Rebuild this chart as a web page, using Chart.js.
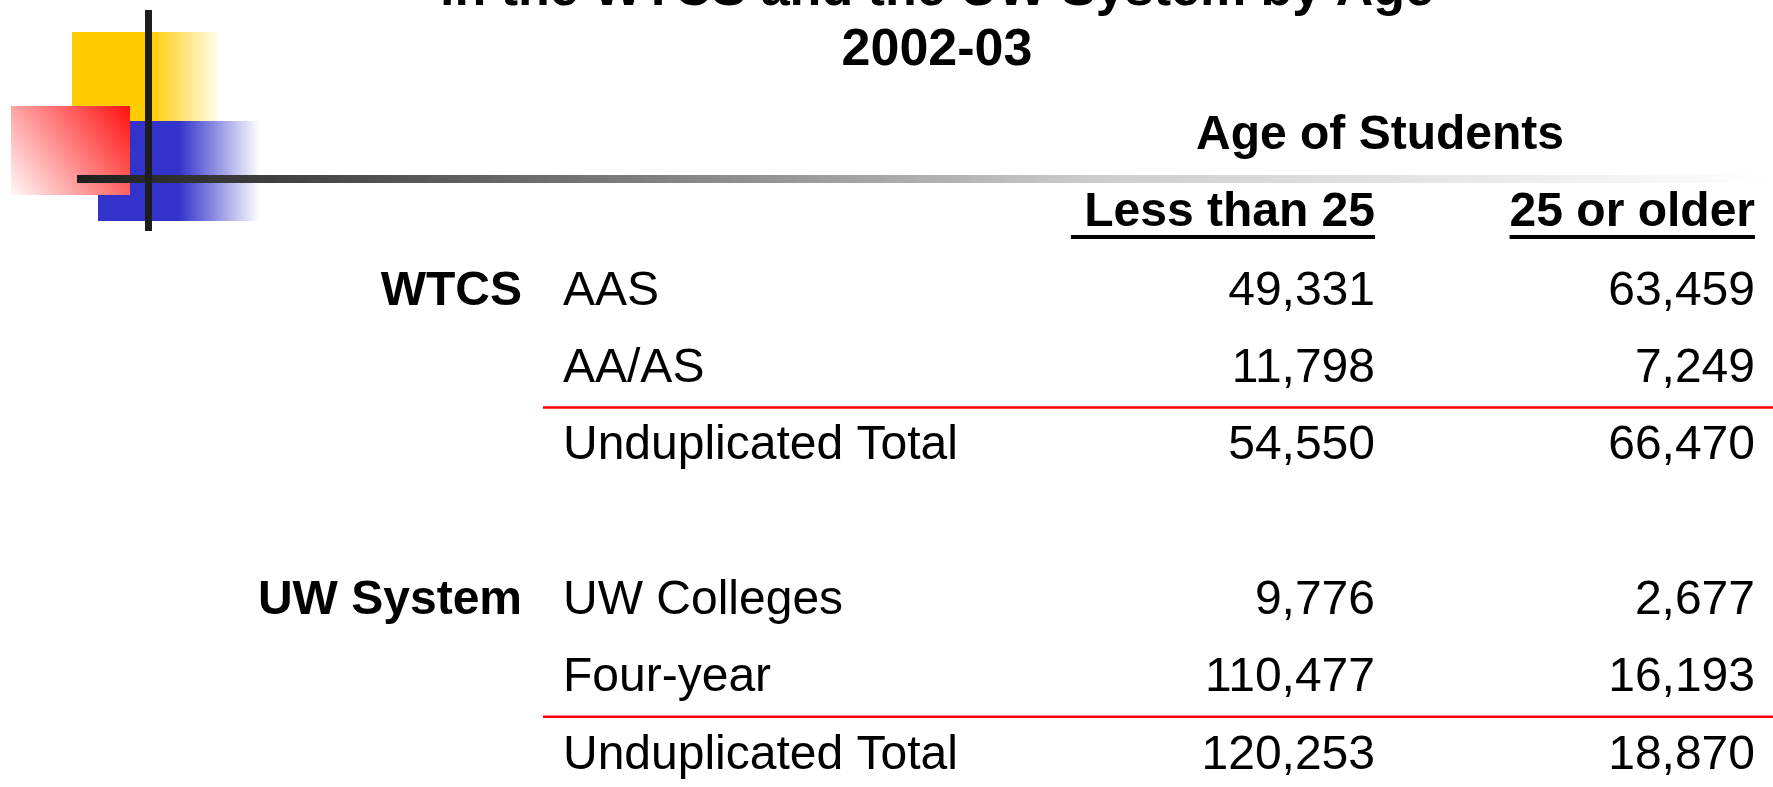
<!DOCTYPE html>
<html>
<head>
<meta charset="utf-8">
<title>Students in the WTCS and the UW System by Age, 2002-03</title>
<script src="https://cdn.jsdelivr.net/npm/chart.js@4.4.1/dist/chart.umd.min.js"></script>
<style>
  html, body { margin: 0; padding: 0; background: #fff; }
  canvas { display: block; }
</style>
</head>
<body>
<canvas id="AgeTable" width="1773" height="787"></canvas>
<script>
// Table contents.
const titleLines = ["in the WTCS and the UW System by Age", "2002-03"];
const spanHeader = "Age of Students";
const colLabels = [" Less than 25", "25 or older"];
const groupLabels = ["WTCS", "", "", "", "UW System", "", ""];
const rowLabels = ["AAS", "AA/AS", "Unduplicated Total", "", "UW Colleges", "Four-year", "Unduplicated Total"];
const lessThan25 = [49331, 11798, 54550, null, 9776, 110477, 120253];
const age25Plus = [63459, 7249, 66470, null, 2677, 16193, 18870];
// rows that get a red rule underneath them
const ruleAfter = [1, 5];

const FONT = '"Liberation Sans", Arial, sans-serif';
Chart.defaults.font.family = FONT;
Chart.defaults.color = "#000";

// Turn one column of values into points on the category grid (x = column, y = row).
function cells(values, col) {
    var pts = [];
    for (var i = 0; i < values.length; i++) {
        if (values[i] === null) continue;
        pts.push({ x: col, y: i, v: values[i] });
    }
    return pts;
}

/**
 * Slide template in the top left corner: gradient squares and the cross rule.
 */
const slideTemplate = {
    id: "slideTemplate",
    beforeDraw: function(chart) {
        var ctx = chart.ctx;
        ctx.save();
        ctx.fillStyle = "#fff";
        ctx.fillRect(0, 0, chart.width, chart.height);
        // yellow square fading to the right
        var g = ctx.createLinearGradient(72, 0, 222, 0);
        g.addColorStop(0, "#ffcc00");
        g.addColorStop(0.52, "#ffcc00");
        g.addColorStop(1, "rgba(255,204,0,0)");
        ctx.fillStyle = g;
        ctx.fillRect(72, 32, 150, 89);
        // blue square fading to the right
        g = ctx.createLinearGradient(98, 0, 260, 0);
        g.addColorStop(0, "#3333cc");
        g.addColorStop(0.5, "#3333cc");
        g.addColorStop(1, "rgba(51,51,204,0)");
        ctx.fillStyle = g;
        ctx.fillRect(98, 121, 162, 100);
        // red square, red at top right to white at bottom left
        g = ctx.createLinearGradient(130, 106, 11, 195);
        g.addColorStop(0, "#ff1010");
        g.addColorStop(1, "#fff8f8");
        ctx.fillStyle = g;
        ctx.fillRect(11, 106, 119, 89);
        // long horizontal rule fading out
        g = ctx.createLinearGradient(77, 0, 1773, 0);
        g.addColorStop(0, "#1e1e1e");
        g.addColorStop(0.6, "#cccccc");
        g.addColorStop(1, "#ffffff");
        ctx.fillStyle = g;
        ctx.fillRect(77, 175, 1696, 8);
        // vertical rule
        ctx.fillStyle = "#1e1e1e";
        ctx.fillRect(145, 10, 7, 221);
        ctx.restore();
    }
};

/**
 * Draws the numbers in each cell, the header underlines, the spanning header
 * and the red rules above the totals.
 */
const tableText = {
    id: "tableText",
    afterDatasetsDraw: function(chart) {
        var ctx = chart.ctx;
        ctx.save();
        ctx.font = "48px " + FONT;
        ctx.fillStyle = "#000";
        ctx.textAlign = "right";
        ctx.textBaseline = "middle";
        chart.data.datasets.forEach(function(ds, d) {
            chart.getDatasetMeta(d).data.forEach(function(pt, i) {
                ctx.fillText(ds.data[i].v.toLocaleString("en-US"), pt.x, pt.y);
            });
        });
        ctx.restore();
    },
    afterDraw: function(chart) {
        var ctx = chart.ctx;
        var x = chart.scales.x, y = chart.scales.y;
        ctx.save();
        ctx.fillStyle = "#000";
        ctx.font = "bold 48px " + FONT;
        // spanning header over the two age columns
        ctx.textAlign = "center";
        ctx.textBaseline = "alphabetic";
        ctx.fillText(spanHeader, x.getPixelForValue(0) + 5, x.top + 68);
        // underline the column headers
        for (var i = 0; i < colLabels.length; i++) {
            var px = x.getPixelForTick(i);
            var w = ctx.measureText(colLabels[i]).width;
            ctx.fillRect(px - w, x.bottom - 56.4, w, 4);
        }
        // red rules between the detail rows and the totals
        ctx.strokeStyle = "#ff0000";
        ctx.lineWidth = 2.5;
        ruleAfter.forEach(function(r) {
            var yy = (y.getPixelForValue(r) + y.getPixelForValue(r + 1)) / 2;
            ctx.beginPath();
            ctx.moveTo(y.left - 20, yy);
            ctx.lineTo(chart.width, yy);
            ctx.stroke();
        });
        ctx.restore();
    }
};

var canvas = document.getElementById("AgeTable");
new Chart(canvas, {
    type: "scatter",
    data: {
        datasets: [
            { label: colLabels[0], data: cells(lessThan25, 0), pointRadius: 0 },
            { label: colLabels[1], data: cells(age25Plus, 1), pointRadius: 0 }
        ]
    },
    options: {
        responsive: false,
        animation: false,
        parsing: false,
        layout: { padding: { top: -39, left: 119, right: 18, bottom: 31.6 } },
        plugins: {
            legend: { display: false },
            tooltip: { enabled: false },
            title: {
                display: true,
                text: titleLines,
                color: "#000",
                padding: 0,
                font: { size: 52, weight: "bold", lineHeight: 60 / 52 }
            }
        },
        scales: {
            x: {
                type: "category",
                position: "top",
                labels: colLabels,
                offset: false,
                // invisible tick marks push the header labels up off the first row
                grid: { display: false, drawTicks: true, tickLength: 50.2 },
                border: { display: false },
                ticks: {
                    autoSkip: false, maxRotation: 0, minRotation: 0,
                    align: "end", padding: 0, color: "#000",
                    font: { size: 48, weight: "bold", lineHeight: 1.2 }
                },
                afterFit: function(scale) { scale.height = 210.4; }
            },
            y: {
                type: "category",
                position: "left",
                weight: 0,
                labels: rowLabels,
                offset: false,
                grid: { display: false, drawTicks: false },
                border: { display: false },
                ticks: {
                    autoSkip: false, crossAlign: "far", padding: 0, color: "#000",
                    font: { size: 48, lineHeight: 1.2 }
                },
                afterFit: function(scale) { scale.width = 812; }
            },
            grp: {
                type: "category",
                position: "left",
                weight: 1,
                labels: groupLabels,
                offset: false,
                grid: { display: false, drawTicks: true, tickLength: 41 },
                border: { display: false },
                ticks: {
                    autoSkip: false, crossAlign: "near", padding: 0, color: "#000",
                    font: { size: 48, weight: "bold", lineHeight: 1.2 }
                },
                afterFit: function(scale) { scale.width = 444; }
            }
        }
    },
    plugins: [slideTemplate, tableText]
});
</script>
</body>
</html>
